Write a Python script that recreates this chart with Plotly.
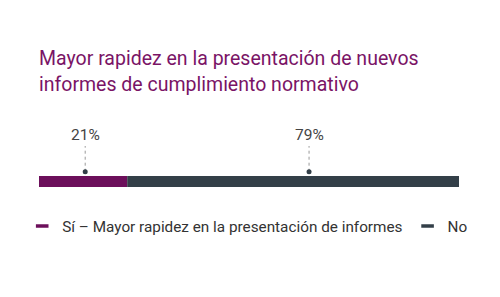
import plotly.graph_objects as go

categories = ["Sí – Mayor rapidez en la presentación de informes", "No"]
values = [21, 79]
labels = ["21%", "79%"]
colors = ["#6c0f5b", "#333f48"]
title_lines = ["Mayor rapidez en la presentación de nuevos",
               "informes de cumplimiento normativo"]

W, H = 500, 297
fig = go.Figure()

base = 0
for cat, v, c in zip(categories, values, colors):
    fig.add_trace(go.Bar(
        x=[v], y=[0.85], base=[base], orientation="h", width=1.1,
        marker=dict(color=c, line=dict(width=0)),
        showlegend=False, hoverinfo="skip"))
    base += v

# label positions (layout) along the bar
label_x = [11, 64.3]
dot_y = 1.83
line_top = 4.4
text_y = 5.5
for lx, lab in zip(label_x, labels):
    fig.add_trace(go.Scatter(x=[lx, lx], y=[dot_y, line_top], mode="lines",
                             line=dict(color="#9a9a9a", width=1, dash="dot"),
                             showlegend=False, hoverinfo="skip"))
    fig.add_trace(go.Scatter(x=[lx], y=[dot_y], mode="markers",
                             marker=dict(color="#333f48", size=5),
                             showlegend=False, hoverinfo="skip"))
    fig.add_annotation(x=lx, y=text_y, text=lab, showarrow=False,
                       font=dict(family="Roboto", size=15.5, color="#444444"),
                       xanchor="center", yanchor="middle")

# legend entries
for cat, c in zip(categories, colors):
    fig.add_trace(go.Scatter(x=[None], y=[None], mode="markers", name=cat,
                             marker=dict(symbol="line-ew-open", size=9, color=c,
                                         line=dict(color=c, width=3.5))))

for i, t in enumerate(title_lines):
    fig.add_annotation(xref="paper", yref="paper", x=0, y=0, xanchor="left",
                       yanchor="middle", text=t, showarrow=False,
                       xshift=-2, yshift=(190 - (58 + 26 * i)),
                       font=dict(family="Roboto", size=19.5, color="#7a1466"))

fig.update_layout(
    width=W, height=H,
    margin=dict(l=39, r=41, t=120, b=H - 190, pad=0),
    paper_bgcolor="white", plot_bgcolor="white",
    barmode="overlay",
    xaxis=dict(range=[0, 100], visible=False, fixedrange=True),
    yaxis=dict(range=[0, 7], visible=False, fixedrange=True),
    showlegend=True,
    legend=dict(orientation="h", x=-0.04, xanchor="left", y=-0.28, yanchor="top",
                font=dict(family="Roboto", size=15.3, color="#333333"),
                itemwidth=30, traceorder="normal", bgcolor="rgba(0,0,0,0)"),
    font=dict(family="Roboto"),
)

fig.write_html("out.html")
